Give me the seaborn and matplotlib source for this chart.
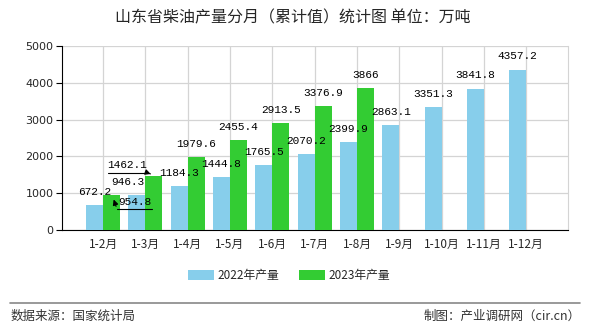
import matplotlib
matplotlib.use("Agg")
import matplotlib.pyplot as plt
import seaborn as sns
import pandas as pd
from matplotlib.patches import Patch

months = ["1-2月", "1-3月", "1-4月", "1-5月", "1-6月", "1-7月", "1-8月",
          "1-9月", "1-10月", "1-11月", "1-12月"]
v2022 = [672.2, 946.3, 1184.3, 1444.8, 1765.5, 2070.2, 2399.9,
         2863.1, 3351.3, 3841.8, 4357.2]
v2023 = [954.8, 1462.1, 1979.6, 2455.4, 2913.5, 3376.9, 3866]
series = ["2022年产量", "2023年产量"]
colors = ["#87CEEB", "#33CC33"]

rows = []
for m, v in zip(months, v2022):
    rows.append({"month": m, "value": v, "year": series[0]})
for m, v in zip(months, v2023):
    rows.append({"month": m, "value": v, "year": series[1]})
df = pd.DataFrame(rows)

sns.set_style("white")
plt.rcParams['font.family'] = ['Noto Sans CJK SC', 'DejaVu Sans']

fig = plt.figure(figsize=(5.9, 3.3), dpi=100)
ax = fig.add_axes([0.105, 0.303, 0.858, 0.558])

sns.barplot(data=df, x="month", y="value", hue="year", order=months,
            hue_order=series, palette=colors, width=0.8, ax=ax,
            legend=False, saturation=1, zorder=3, linewidth=0, edgecolor="none")

ax.set_xlim(-0.97, 10.99)
ax.set_ylim(0, 5000)
ax.set_yticks([0, 1000, 2000, 3000, 4000, 5000])
ax.set_xlabel("")
ax.set_ylabel("")
ax.grid(True, color="#d4d4d4", linewidth=0.9, zorder=0)
ax.set_axisbelow(True)
ax.spines["top"].set_visible(False)
ax.spines["right"].set_color("#d4d4d4")
ax.spines["left"].set_color("black")
ax.spines["bottom"].set_color("black")
ax.tick_params(axis="y", length=4, width=0.8, color="black", labelsize=8, pad=2, left=True)
ax.tick_params(axis="x", length=0, labelsize=8.5, pad=6)
for lab in ax.get_yticklabels():
    lab.set_family(["DejaVu Sans"])

label_font = dict(family=["Liberation Mono", "DejaVu Sans Mono"], fontsize=8, color="black")

for ci, cont in enumerate(ax.containers):
    for i, bar in enumerate(cont):
        h = bar.get_height()
        if h != h or h == 0:
            continue
        xc = bar.get_x() + bar.get_width() / 2
        if ci == 1 and i in (0, 1):
            continue
        dx = 0
        if ci == 0 and i == 1:
            dx = -6.5
        ax.annotate(f"{h:g}" if h == int(h) else f"{h:.1f}", (xc, h),
                    xytext=(dx, 9.4), textcoords="offset points",
                    ha="center", va="center", zorder=5, **label_font)

# displaced labels with leaders
ax.text(0.76, 760, f"{v2023[0]:.1f}", ha="center", va="center", zorder=6, **label_font)
ax.plot([0.33, 1.16], [571, 571], color="black", lw=0.8, zorder=6)
ax.annotate("", xy=(0.23, 900), xytext=(0.33, 571),
            arrowprops=dict(arrowstyle="-|>", color="black", lw=0.8, mutation_scale=8), zorder=6)

ax.text(0.57, 1766, f"{v2023[1]:.1f}", ha="center", va="center", zorder=6, **label_font)
ax.plot([0.12, 1.06], [1549, 1549], color="black", lw=0.8, zorder=6)
ax.annotate("", xy=(1.19, 1495), xytext=(1.06, 1549),
            arrowprops=dict(arrowstyle="-|>", color="black", lw=0.8, mutation_scale=8), zorder=6)

fig.text(0.497, 0.945, "山东省柴油产量分月（累计值）统计图 单位：万吨",
         ha="center", va="center", fontsize=11.5)

handles = [Patch(facecolor=c, edgecolor="none") for c in colors]
fig.legend(handles, series, loc="center", bbox_to_anchor=(0.49, 0.165), ncol=2,
           frameon=False, fontsize=8.5, handlelength=2.2, handleheight=0.9,
           columnspacing=1.6, handletextpad=0.3)

fig.add_artist(plt.Line2D([0.017, 0.983], [0.082, 0.082], color="#888888", lw=1.2))
fig.text(0.017, 0.042, "数据来源：国家统计局", ha="left", va="center", fontsize=9, color="#333333")
fig.text(0.985, 0.042, "制图：产业调研网（cir.cn）", ha="right", va="center", fontsize=9, color="#333333")

fig.savefig("out.png", dpi=100)
